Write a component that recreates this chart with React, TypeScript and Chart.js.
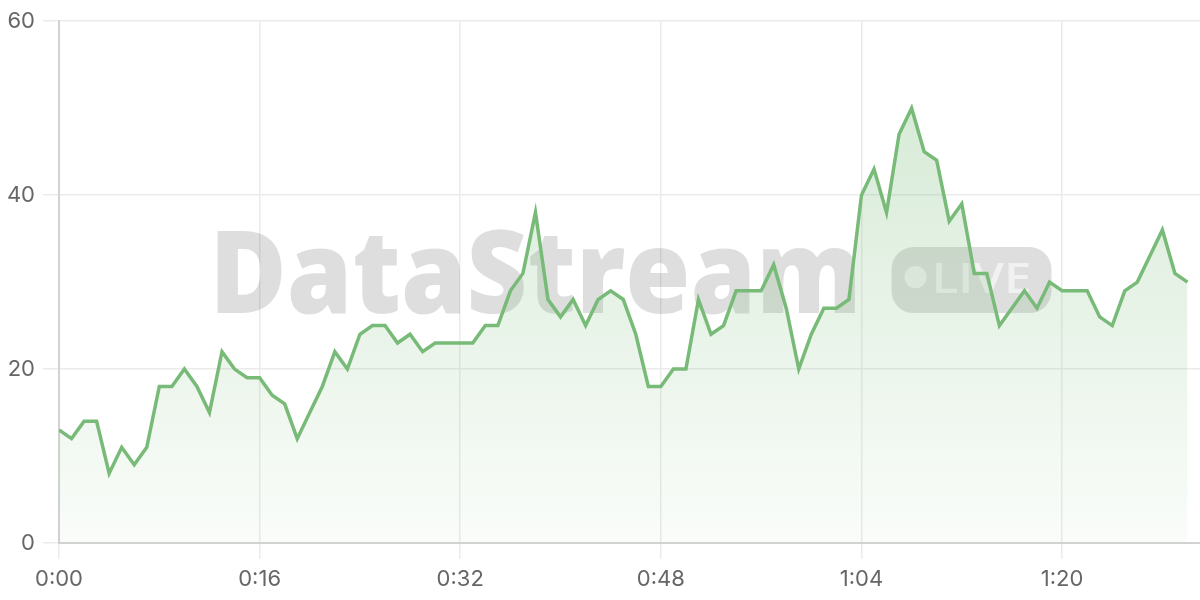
import React, { useEffect, useRef } from "react";
import { Chart, registerables } from "chart.js";

Chart.register(...registerables);

// elapsed time in seconds
const seconds = [
  0, 1, 2, 3, 4, 5, 6, 7, 8, 9, 10, 11, 12, 13, 14, 15, 16, 17, 18, 19,
  20, 21, 22, 23, 24, 25, 26, 27, 28, 29, 30, 31, 32, 33, 34, 35, 36, 37, 38, 39,
  40, 41, 42, 43, 44, 45, 46, 47, 48, 49, 50, 51, 52, 53, 54, 55, 56, 57, 58, 59,
  60, 61, 62, 63, 64, 65, 66, 67, 68, 69, 70, 71, 72, 73, 74, 75, 76, 77, 78, 79,
  80, 81, 82, 83, 84, 85, 86, 87, 88, 89, 90,
];

// streamed values
const values = [
  13, 12, 14, 14, 8, 11, 9, 11, 18, 18,
  20, 18, 15, 22, 20, 19, 19, 17, 16, 12,
  15, 18, 22, 20, 24, 25, 25, 23, 24, 22,
  23, 23, 23, 23, 25, 25, 29, 31, 38, 28,
  26, 28, 25, 28, 29, 28, 24, 18, 18, 20,
  20, 28, 24, 25, 29, 29, 29, 32, 27, 20,
  24, 27, 27, 28, 40, 43, 38, 47, 50, 45,
  44, 37, 39, 31, 31, 25, 27, 29, 27, 30,
  29, 29, 29, 26, 25, 29, 30, 33, 36, 31, 30,
];

const xRange = [0, 91];
const yRange = [0, 60];
const xStep = 16;
const yStep = 20;

const watermarkTitle = "DataStream";
const watermarkBadge = "LIVE";

const LINE = "rgb(120, 186, 120)";
const TICK_FONT = "Inter";

function fmtTime(v: number) {
  const m = Math.floor(v / 60);
  const s = Math.round(v % 60);
  return `${m}:${String(s).padStart(2, "0")}`;
}

const watermarkPlugin = {
  id: "watermark",
  beforeDatasetsDraw(chart: any) {
    const { ctx, chartArea } = chart;
    const cx = (chartArea.left + chartArea.right) / 2;
    const cy = (chartArea.top + chartArea.bottom) / 2;
    ctx.save();
    // main word
    ctx.fillStyle = "rgba(0,0,0,0.13)";
    ctx.font = '800 116px "Open Sans"';
    ctx.textAlign = "left";
    ctx.textBaseline = "alphabetic";
    const w = ctx.measureText(watermarkTitle).width;
    const targetW = 652;
    ctx.save();
    ctx.translate(cx - 420, cy + 31);
    ctx.scale(targetW / w, 1);
    ctx.fillText(watermarkTitle, 0, 0);
    ctx.restore();
    // pill
    const px = cx + 262, py = cy - 35, pw = 160, ph = 66, r = 22;
    ctx.beginPath();
    ctx.roundRect(px, py, pw, ph, r);
    ctx.fill();
    ctx.fillStyle = "rgba(255,255,255,0.55)";
    ctx.beginPath();
    ctx.arc(px + 24, py + 30, 11, 0, Math.PI * 2);
    ctx.fill();
    ctx.font = '600 42px "Open Sans"';
    const lw = ctx.measureText(watermarkBadge).width;
    ctx.save();
    ctx.translate(px + 40, py + 46);
    ctx.scale(100 / lw, 1);
    ctx.fillText(watermarkBadge, 0, 0);
    ctx.restore();
    ctx.restore();
  },
};

export default function App() {
  const ref = useRef<HTMLCanvasElement | null>(null);

  useEffect(() => {
    document.body.style.margin = "0";
    if (!ref.current) return;
    const chart = new Chart(ref.current, {
      type: "line",
      data: {
        datasets: [
          {
            data: seconds.map((s, i) => ({ x: s, y: values[i] })),
            borderColor: LINE,
            borderWidth: 3.5,
            pointRadius: 0,
            tension: 0,
            fill: "origin",
            backgroundColor: (c: any) => {
              const { chart } = c;
              const area = chart.chartArea;
              if (!area) return "rgba(120,186,120,0.15)";
              const g = chart.ctx.createLinearGradient(0, area.top, 0, area.bottom);
              g.addColorStop(0, "rgba(120,186,120,0.34)");
              g.addColorStop(1, "rgba(120,186,120,0.04)");
              return g;
            },
          },
        ],
      },
      options: {
        animation: false,
        responsive: true,
        maintainAspectRatio: false,
        layout: { padding: { top: 8, left: 0, right: 0, bottom: 0 } },
        plugins: { legend: { display: false }, tooltip: { enabled: false } },
        scales: {
          x: {
            type: "linear",
            min: xRange[0],
            max: xRange[1],
            grid: { color: "#ebebeb", lineWidth: 1.5, tickLength: 16 },
            border: { color: "#d2d2d2", width: 2 },
            ticks: {
              stepSize: xStep,
              includeBounds: false,
              maxRotation: 0,
              color: "#666",
              padding: 7,
              font: { family: TICK_FONT, size: 22 },
              callback: (v: any) => fmtTime(Number(v)),
            },
            afterFit: (s: any) => {
              s.height = 57;
            },
          },
          y: {
            min: yRange[0],
            max: yRange[1],
            grid: { color: "#ebebeb", lineWidth: 1.5, tickLength: 16 },
            border: { color: "#d2d2d2", width: 2 },
            ticks: {
              stepSize: yStep,
              color: "#666",
              padding: 8,
              font: { family: TICK_FONT, size: 22 },
            },
            afterFit: (s: any) => {
              s.width = 59;
            },
          },
        },
      },
      plugins: [watermarkPlugin],
    });
    return () => chart.destroy();
  }, []);

  return (
    <div style={{ position: "fixed", left: 0, top: 0, width: 1200, height: 600 }}>
      <canvas ref={ref} />
    </div>
  );
}
